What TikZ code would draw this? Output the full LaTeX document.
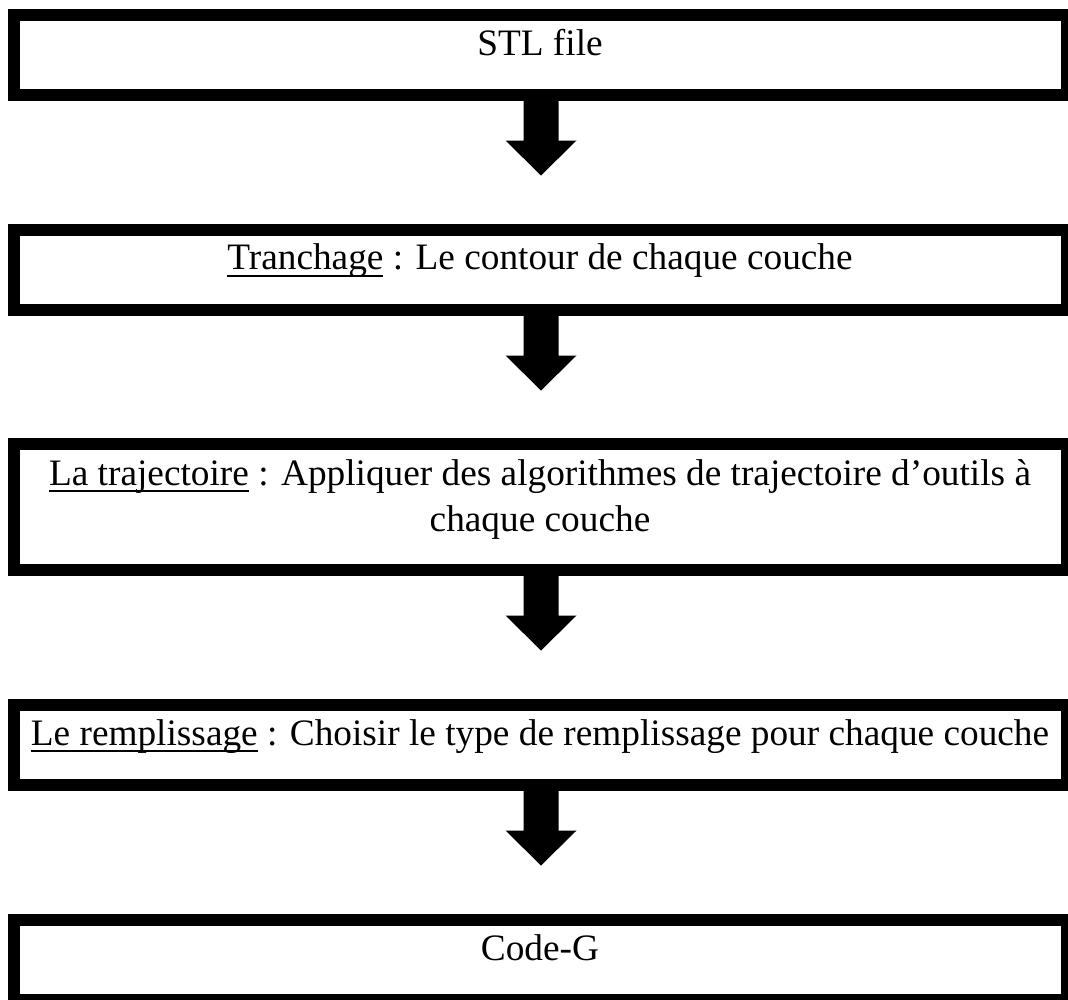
\documentclass[tikz,border=0pt]{standalone}
\usepackage{fontspec}
\setmainfont{Liberation Serif}
\usetikzlibrary{calc}

% underline drawn at a fixed distance below the baseline
\newcommand\ulword[1]{\setbox0\hbox{#1}\rlap{\rule[-7.4pt]{\wd0}{2.2pt}}\box0\relax}

\tikzset{
  stagebox/.style={draw=black, line width=12pt, rectangle, inner sep=0pt,
    minimum width=1053pt},
  stagetext/.style={anchor=base, inner sep=0pt,
    font=\fontsize{37.3}{47}\selectfont},
  flowarrow/.style={fill=black}
}

% thick block arrow hanging below a box anchor
\newcommand\blockarrow[1]{%
  \fill[flowarrow] ($(#1)+(-17.5,-2)$) -- ++(0,41.5) -- ++(-18,0)
    -- ++(35.5,35) -- ++(35.5,-35) -- ++(-18,0) -- ++(0,-41.5) -- cycle;}

\begin{document}
\begin{tikzpicture}[x=1pt,y=-1pt]
\useasboundingbox (0,0) rectangle (1068,999);

% stage boxes
\node[stagebox, minimum height=80pt]  (b1) at (540.5,55)  {};
\node[stagebox, minimum height=80pt]  (b2) at (540.5,270) {};
\node[stagebox, minimum height=126pt] (b3) at (540.5,507) {};
\node[stagebox, minimum height=80pt]  (b4) at (540.5,745) {};
\node[stagebox, minimum height=80pt]  (b5) at (540.5,960) {};

% stage labels
\node[stagetext] (t1)  at (540,55)    {STL file};
\node[stagetext] (t2)  at (540,269.3) {\ulword{Tranchage} : Le contour de chaque couche};
\node[stagetext] (t3a) at (540,485)   {\ulword{La trajectoire} : Appliquer des algorithmes de trajectoire d’outils à};
\node[stagetext] (t3b) at (540,531.7) {chaque couche};
\node[stagetext] (t4)  at (540,745)   {\ulword{Le remplissage} : Choisir le type de remplissage pour chaque couche};
\node[stagetext] (t5)  at (540,960)   {Code-G};

% flow arrows between stages
\blockarrow{$(b1.south)+(0.5,0)$}
\blockarrow{$(b2.south)+(0.5,0)$}
\blockarrow{$(b3.south)+(0.5,0)$}
\blockarrow{$(b4.south)+(0.5,0)$}
\end{tikzpicture}
\end{document}
